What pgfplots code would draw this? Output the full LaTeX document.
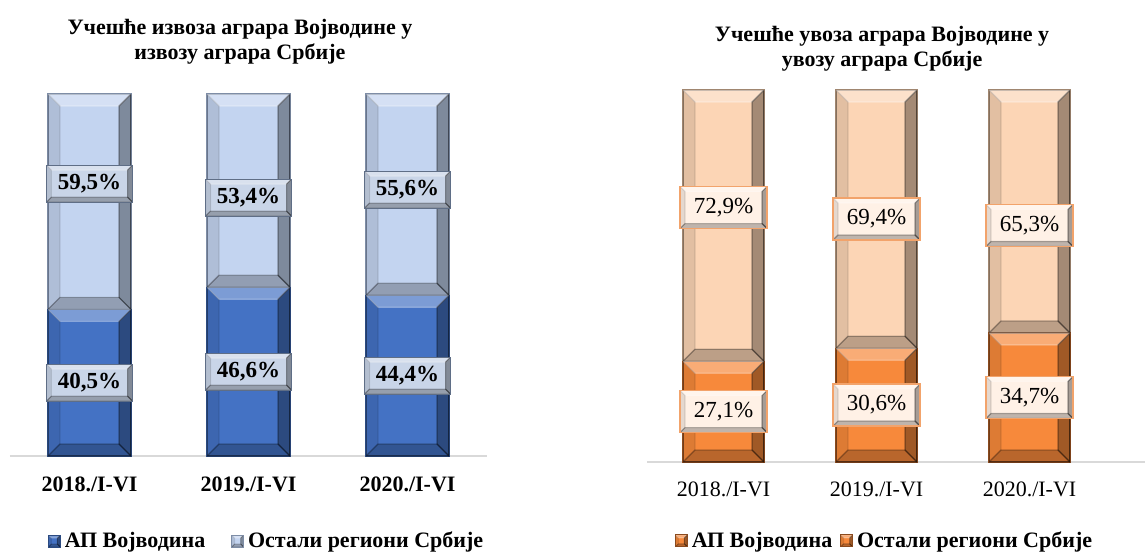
\documentclass[border=0pt]{standalone}
\usepackage{fontspec}
\setmainfont{Liberation Serif}
\usepackage{pgfplots}
\usepackage{pgfplotstable}
\pgfplotsset{compat=1.18}
\definecolor{dblue}{HTML}{4472C4}
\definecolor{lblue}{HTML}{C3D4F0}
\definecolor{dblueE}{HTML}{2B4A80}
\definecolor{lblueE}{HTML}{7E8DA6}
\definecolor{orng}{HTML}{F7893B}
\definecolor{peach}{HTML}{FCD5B5}
\definecolor{orngE}{HTML}{8A4A1E}
\definecolor{peachE}{HTML}{A08670}
\definecolor{axgray}{HTML}{D9D9D9}
\definecolor{lboxB}{HTML}{C9D5E8}
\definecolor{lboxE}{HTML}{5F6E86}
\definecolor{rboxB}{HTML}{FFF1E6}
\definecolor{rboxE}{HTML}{F2A36B}

\newif\ifinbevel
\tikzset{
  bevel/.style={path picture={%
    \ifinbevel\else
    \global\inbeveltrue
    \def\b{#1}%
    \fill[white,opacity=0.30] (path picture bounding box.north west) -- (path picture bounding box.north east) -- ([xshift=-\b,yshift=-\b]path picture bounding box.north east) -- ([xshift=\b,yshift=-\b]path picture bounding box.north west) -- cycle;
    \fill[black,opacity=0.35] (path picture bounding box.north east) -- (path picture bounding box.south east) -- ([xshift=-\b,yshift=\b]path picture bounding box.south east) -- ([xshift=-\b,yshift=-\b]path picture bounding box.north east) -- cycle;
    \fill[black,opacity=0.25] (path picture bounding box.south west) -- (path picture bounding box.south east) -- ([xshift=-\b,yshift=\b]path picture bounding box.south east) -- ([xshift=\b,yshift=\b]path picture bounding box.south west) -- cycle;
    \fill[black,opacity=0.10] (path picture bounding box.north west) -- (path picture bounding box.south west) -- ([xshift=\b,yshift=\b]path picture bounding box.south west) -- ([xshift=\b,yshift=-\b]path picture bounding box.north west) -- cycle;
    \global\inbevelfalse
    \fi
  }},
  lbox/.style={fill=lboxB, draw=lboxE, line width=0.5pt, bevel=2.5pt, text=black, font=\bfseries\fontsize{11.5}{12}\selectfont, minimum width=43pt, minimum height=18.5pt, inner sep=1pt},
  rbox/.style={fill=rboxB, draw=rboxE, line width=0.6pt, bevel=2.5pt, text=black, font=\fontsize{11.5}{12}\selectfont, minimum width=43.5pt, minimum height=21pt, inner sep=1pt},
}

% offv/offo: vertical offsets (pt) of the data labels from segment centres
\pgfplotstableread{
x vo ost offv offo
0 40.5 59.5 0 9
1 46.6 53.4 0 -3.5
2 44.4 55.6 0 2.5
}\exporttable
\pgfplotstableread{
x vo ost offv offo
0 27.1 72.9 0 9
1 30.6 69.4 0 0
2 34.7 65.3 0 -7
}\importtable

\pgfplotsset{
  common/.style={
    scale only axis, ybar stacked, ymin=0, ymax=100,
    xmin=-0.5,
    axis y line=none, axis x line*=bottom,
    x axis line style={axgray, line width=1pt, -},
    xtick={0,1,2}, xticklabels={2018./I-VI,2019./I-VI,2020./I-VI},
    major tick length=0pt,
    clip=false,
    /pgf/number format/assume math mode=true,
    nodes near coords={},
    visualization depends on=rawy \as \rawy,
    legend style={draw=none, fill=none, legend columns=2, font=\bfseries\fontsize{11}{13}\selectfont},
    legend cell align=left,
    legend image code/.code={\draw[##1,line width=0.4pt,bevel=1.5pt] (0pt,-3pt) rectangle (6pt,3pt);},
    every axis title/.style={align=center, anchor=south, font=\bfseries\fontsize{11}{12.5}\selectfont},
  },
}

\begin{document}
\begin{tikzpicture}
\useasboundingbox (0,0) rectangle (572.5pt,-276pt);
% left panel
\begin{axis}[common,
  at={(5pt,-228pt)}, anchor=south west,
  width=238.5pt, height=181pt, xmax=2.5, bar width=41.5pt,
  xticklabel style={font=\bfseries\fontsize{11}{12}\selectfont, yshift=-7pt},
  every node near coord/.append style={anchor=center, inner sep=0pt, outer sep=0pt, draw=none, fill=none,
     minimum width=41.5pt, minimum height=\rawy*1.81pt, bevel=6pt,
     label={[lbox,yshift=\loff*1pt]center:\pgfmathprintnumber[fixed,fixed zerofill,precision=1,use comma,assume math mode=true]{\rawy}\%}},
  title={Учешће извоза аграра Војводине у\\извозу аграра Србије},
  title style={at={(0.482,1)}, yshift=11.5pt},
  legend style={at={(0.54,-0.235)}, anchor=center, /tikz/every even column/.append style={column sep=11pt}},
]
\addplot[fill=dblue, draw=dblueE, line width=0.6pt, visualization depends on=\thisrow{offv}\as\loff] table[x=x,y=vo]{\exporttable};
\addplot[fill=lblue, draw=lblueE, line width=0.6pt, visualization depends on=\thisrow{offo}\as\loff] table[x=x,y=ost]{\exporttable};
\legend{АП Војводина, Остали региони Србије}
\end{axis}
% right panel
\begin{axis}[common,
  at={(323.5pt,-231pt)}, anchor=south west,
  width=249pt, height=186pt, xmax=2.755, bar width=40.5pt,
  xticklabel style={font=\fontsize{11}{12}\selectfont, yshift=-6.5pt},
  every node near coord/.append style={anchor=center, inner sep=0pt, outer sep=0pt, draw=none, fill=none,
     minimum width=40.5pt, minimum height=\rawy*1.86pt, bevel=6pt,
     label={[rbox,yshift=\loff*1pt]center:\pgfmathprintnumber[fixed,fixed zerofill,precision=1,use comma,assume math mode=true]{\rawy}\%}},
  title={Учешће увоза аграра Војводине у\\увозу аграра Србије},
  title style={at={(0.472,1)}, yshift=6pt},
  legend style={at={(0.479,-0.212)}, anchor=center, /tikz/every even column/.append style={column sep=2pt}},
]
\addplot[fill=orng, draw=orngE, line width=0.6pt, forget plot, visualization depends on=\thisrow{offv}\as\loff] table[x=x,y=vo]{\importtable};
\addplot[fill=peach, draw=peachE, line width=0.6pt, forget plot, visualization depends on=\thisrow{offo}\as\loff] table[x=x,y=ost]{\importtable};
\addlegendimage{fill=orng, draw=orngE}
\addlegendentry{АП Војводина}
\addlegendimage{fill=orng, draw=orngE}
\addlegendentry{Остали региони Србије}
\end{axis}
\end{tikzpicture}
\end{document}
